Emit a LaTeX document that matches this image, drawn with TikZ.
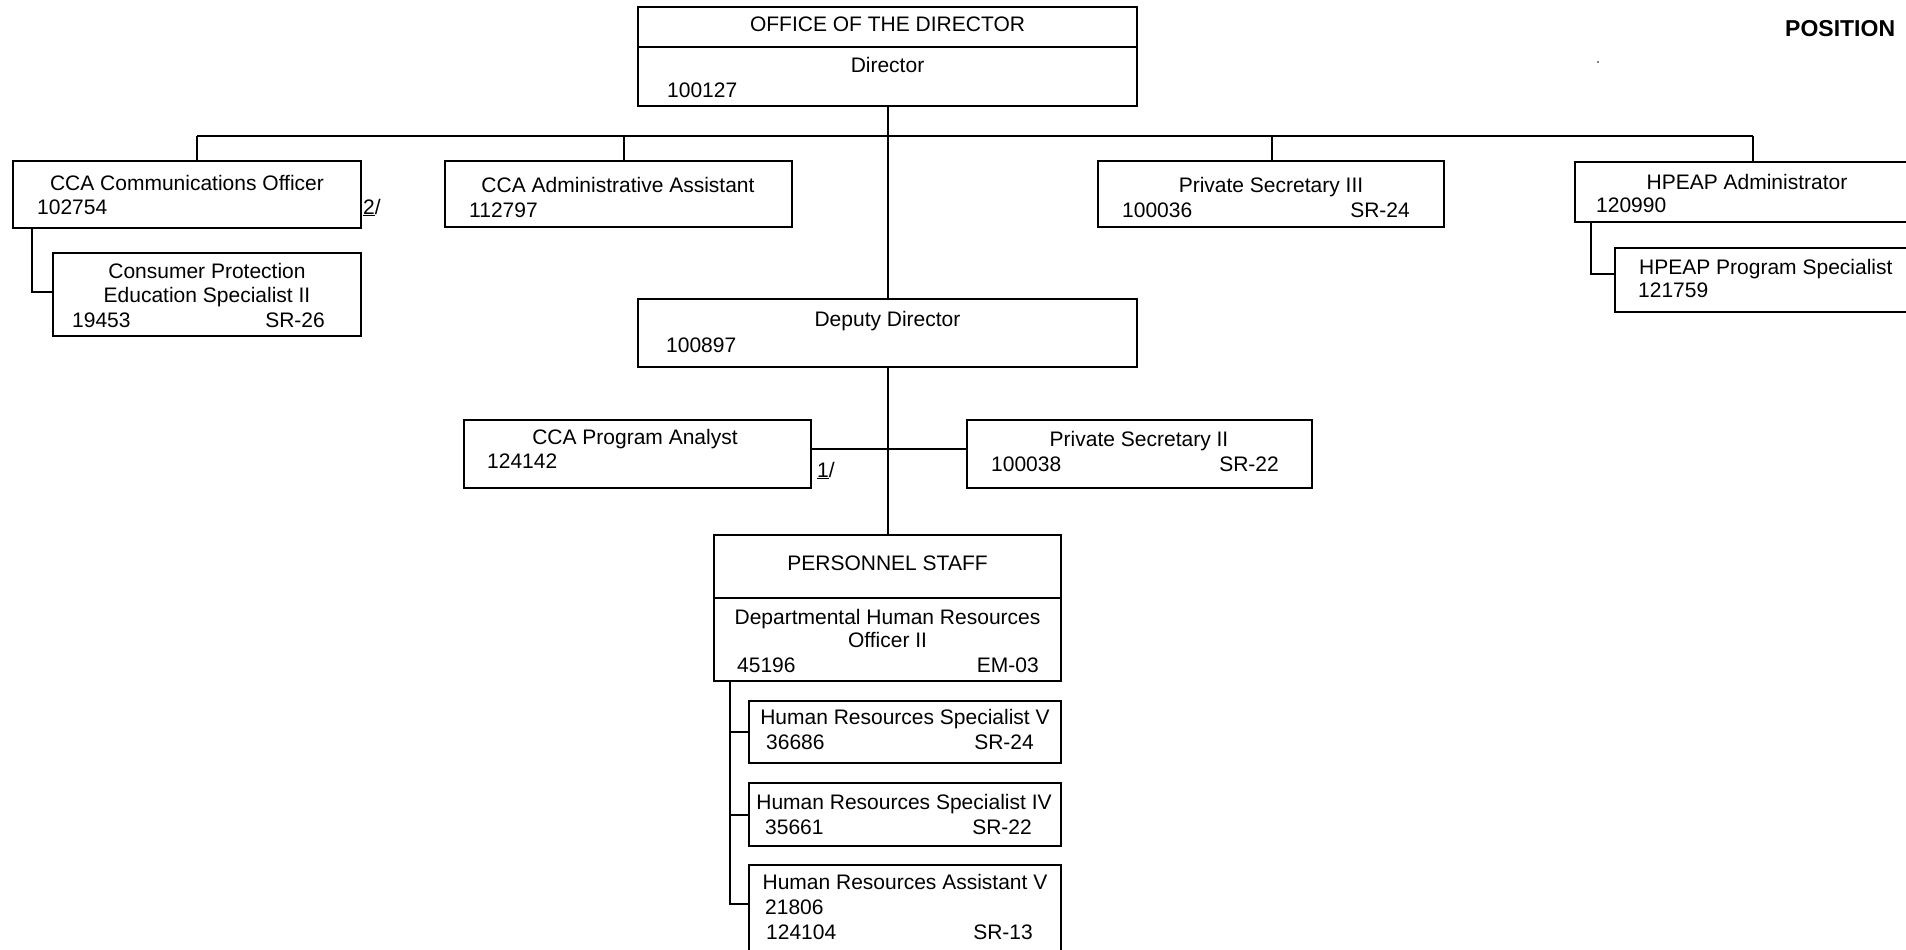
\documentclass[tikz,border=0pt]{standalone}
\usepackage{fontspec}
\setmainfont{Liberation Sans}
\begin{document}
\begin{tikzpicture}[x=1pt,y=-1pt,
  box/.style={draw, line width=2pt, inner sep=0pt, outer sep=0pt, anchor=north west},
  conn/.style={line width=2pt},
  txt/.style={inner sep=0pt, font=\fontsize{21}{25}\selectfont},
  lt/.style={txt, anchor=base west},
  rt/.style={txt, anchor=base east},
  ct/.style={txt, anchor=base}]
\clip (0,0) rectangle (1906,950);
\fill[white] (0,0) rectangle (1906,950);

% boxes
\node[box, minimum width=499pt, minimum height=40pt] (dirhead) at (638,7) {};
\node[box, minimum width=499pt, minimum height=59pt] (dir) at (638,47) {};
\node[box, minimum width=348pt, minimum height=67pt] (comm) at (13,161) {};
\node[box, minimum width=308pt, minimum height=83pt] (cpes) at (53,253) {};
\node[box, minimum width=347pt, minimum height=66pt] (admin) at (445,161) {};
\node[box, minimum width=346pt, minimum height=66pt] (ps3) at (1098,161) {};
\node[box, minimum width=347pt, minimum height=60pt] (hpeap) at (1575,162) {};
\node[box, minimum width=347pt, minimum height=64pt] (hps) at (1615,248) {};
\node[box, minimum width=499pt, minimum height=68pt] (dep) at (638,299) {};
\node[box, minimum width=347pt, minimum height=68pt] (pa) at (464,420) {};
\node[box, minimum width=345pt, minimum height=68pt] (ps2) at (967,420) {};
\node[box, minimum width=347pt, minimum height=63pt] (pershead) at (714,535) {};
\node[box, minimum width=347pt, minimum height=83pt] (dhro) at (714,598) {};
\node[box, minimum width=312pt, minimum height=62pt] (hrs5) at (749,701) {};
\node[box, minimum width=312pt, minimum height=63pt] (hrs4) at (749,783) {};
\node[box, minimum width=312pt, minimum height=100pt] (hra) at (749,865) {};

% connectors
\coordinate (busL) at (197,136);
\coordinate (busR) at (1753,136);
\coordinate (busA) at (624,136);
\coordinate (busP) at (1272,136);
\draw[conn] (busL) -- (busR);
\draw[conn] (dir.south) -- (dep.north);
\draw[conn] (busL) -- (busL |- comm.north);
\draw[conn] (busA) -- (busA |- admin.north);
\draw[conn] (busP) -- (busP |- ps3.north);
\draw[conn] (busR) -- (busR |- hpeap.north);
\coordinate (ctap) at (32,228);
\coordinate (cjoin) at (53,292);
\draw[conn] (ctap) |- (cjoin);
\coordinate (htap) at (1591,222);
\coordinate (hjoin) at (1615,274);
\draw[conn] (htap) |- (hjoin);
\coordinate (paj) at (811,449);
\coordinate (psj) at (967,449);
\draw[conn] (paj) -- (paj -| dep.south) -- (psj);
\draw[conn] (dep.south) -- (pershead.north);
\coordinate (ptap) at (730,681);
\coordinate (pend) at (730,904);
\draw[conn] (ptap) -- (pend) -- (hra.west |- pend);
\draw[conn] (ptap |- hrs5.west) -- (hrs5.west);
\draw[conn] (ptap |- hrs4.west) -- (hrs4.west);

% texts
\node[ct] (t1) at (887.5,32) {OFFICE OF THE DIRECTOR};
\node[ct] (t2) at (887.5,73) {Director};
\node[lt] (t3) at (667,97) {100127};

\node[ct] (t4) at (187,190) {CCA Communications Officer};
\node[lt] (t5) at (37,214) {102754};
\node[lt] (t6) at (363,214) {\underline{2}/};

\node[ct] (t7) at (207,278) {Consumer Protection};
\node[ct] (t8) at (207,302) {Education Specialist II};
\node[lt] (t9) at (72,327) {19453};
\node[rt] (t10) at (325,327) {SR-26};

\node[ct] (t11) at (618,192) {CCA Administrative Assistant};
\node[lt] (t12) at (469,217) {112797};

\node[ct] (t13) at (1271,192) {Private Secretary III};
\node[lt] (t14) at (1122,217) {100036};
\node[rt] (t15) at (1410,217) {SR-24};

\node[ct] (t16) at (1747,189) {HPEAP Administrator};
\node[lt] (t17) at (1596,212) {120990};

\node[lt] (t18) at (1639,274) {HPEAP Program Specialist};
\node[lt] (t19) at (1638,297) {121759};

\node[ct] (t20) at (887.5,326) {Deputy Director};
\node[lt] (t21) at (666,352) {100897};

\node[ct] (t22) at (635,444) {CCA Program Analyst};
\node[lt] (t23) at (487,468) {124142};
\node[lt] (t24) at (817,477) {\underline{1}/};

\node[ct] (t25) at (1139,446) {Private Secretary II};
\node[lt] (t26) at (991,471) {100038};
\node[rt] (t27) at (1279,471) {SR-22};

\node[ct] (t28) at (887.5,570) {PERSONNEL STAFF};
\node[ct] (t29) at (887.5,624) {Departmental Human Resources};
\node[ct] (t30) at (887.5,647) {Officer II};
\node[lt] (t31) at (737,672) {45196};
\node[rt] (t32) at (1039,672) {EM-03};

\node[ct] (t33) at (905,724) {Human Resources Specialist V};
\node[lt] (t34) at (766,749) {36686};
\node[rt] (t35) at (1034,749) {SR-24};

\node[ct] (t36) at (904,809) {Human Resources Specialist IV};
\node[lt] (t37) at (765,834) {35661};
\node[rt] (t38) at (1032,834) {SR-22};

\node[ct] (t39) at (905,889) {Human Resources Assistant V};
\node[lt] (t40) at (765,914) {21806};
\node[lt] (t41) at (766,939) {124104};
\node[rt] (t42) at (1033,939) {SR-13};

\node[inner sep=0pt, anchor=base west, font=\fontsize{23}{27}\selectfont\bfseries] (title) at (1785,37) {POSITION};
\fill (1598,62) circle (0.8);
\end{tikzpicture}
\end{document}
